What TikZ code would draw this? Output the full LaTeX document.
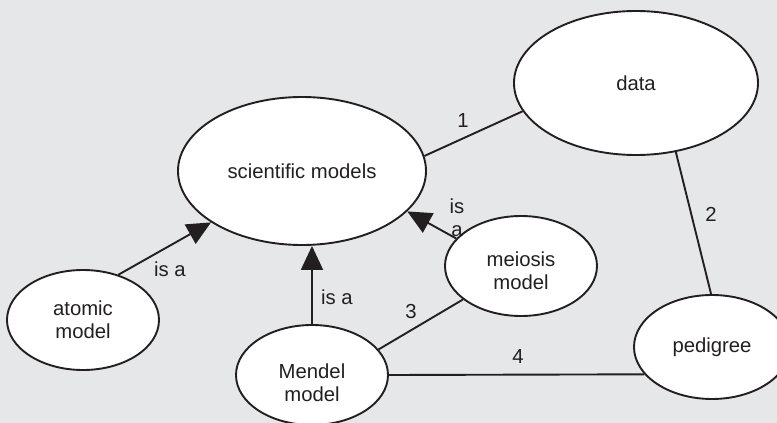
\documentclass[tikz,border=0pt]{standalone}
\usepackage{fontspec}
\setmainfont{Liberation Sans}
\usetikzlibrary{shapes.geometric,arrows.meta}
\definecolor{bg}{RGB}{230,231,233}
\definecolor{ink}{RGB}{35,31,32}
\begin{document}
\begin{tikzpicture}[x=1pt,y=-1pt,
  concept/.style={ellipse,draw=ink,fill=white,line width=1.9pt,inner sep=0pt,align=center,text=ink,font=\fontsize{20.3}{23}\selectfont},
  link/.style={draw=ink,line width=1.9pt},
  isa/.style={link,-{Triangle[length=24pt,width=22pt]}},
  lbl/.style={text=ink,font=\fontsize{20.3}{23}\selectfont,inner sep=0pt,align=center}]
\useasboundingbox (0,0) rectangle (777,423);
\fill[bg] (0,0) rectangle (777,423);
\clip (0,0) rectangle (777,423);

\node[concept,minimum width=248pt,minimum height=148pt] (sci) at (302,171) {scientific models};
\node[concept,minimum width=244pt,minimum height=144pt] (data) at (636,83) {data};
\node[concept,minimum width=152pt,minimum height=100pt] (meiosis) at (521,266) {\rule{0pt}{24.6pt}meiosis\\model};
\node[concept,minimum width=152pt,minimum height=100pt] (atomic) at (83,320) {atomic\\model};
\node[concept,minimum width=152pt,minimum height=100pt] (mendel) at (312,375) {\rule{0pt}{30.5pt}Mendel\\model};
\node[concept,minimum width=156pt,minimum height=104pt] (pedigree) at (712,347) {pedigree};

\draw[isa] (atomic.52) -- (sci);
\draw[isa] (mendel.north) -- (mendel.north |- sci.south);
\draw[isa] (meiosis.157) -- (sci.-21);
\draw[link] (sci.7) -- (data.194);
\draw[link] (data.-60) -- (pedigree.91);
\draw[link] (mendel.21) -- (meiosis.210);
\draw[link] (mendel.east) -- (pedigree.202);

\node[lbl] (l1) at (170,269) {is a};
\node[lbl] (l2) at (337,297) {is a};
\node[lbl] (l3) at (457,218) {is\\a};
\node[lbl] (n1) at (463,121) {1};
\node[lbl] (n2) at (711,214) {2};
\node[lbl] (n3) at (411,312) {3};
\node[lbl] (n4) at (518,357) {4};
\end{tikzpicture}
\end{document}
